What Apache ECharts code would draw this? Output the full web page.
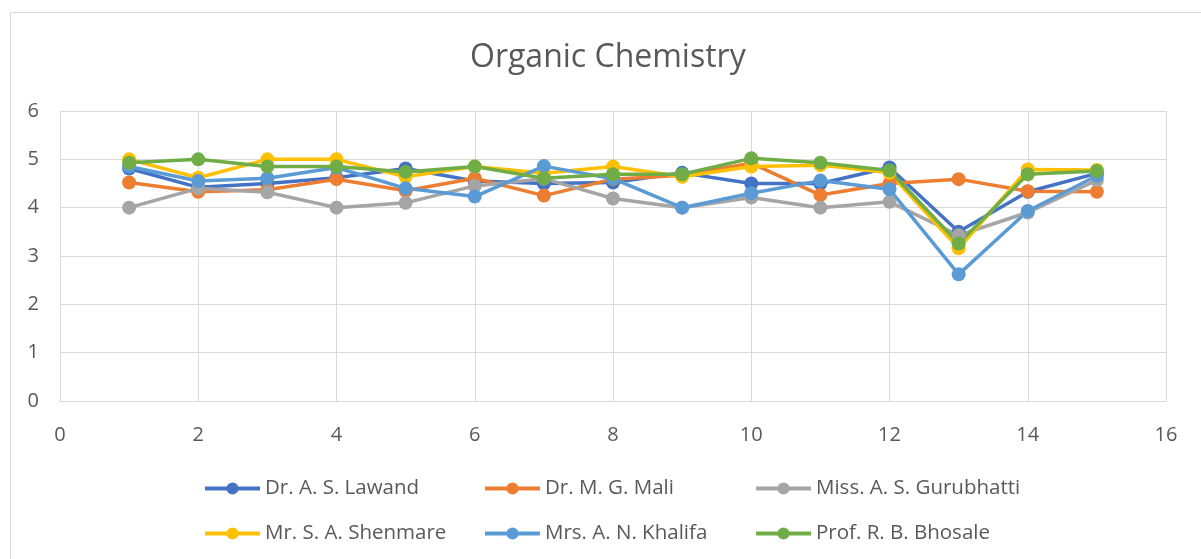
<!DOCTYPE html>
<html><head><meta charset="utf-8">
<script src="https://cdn.jsdelivr.net/npm/echarts@6/dist/echarts.min.js"></script>
<style>html,body{margin:0;padding:0;background:#fff}#c{width:1201px;height:559px}</style>
</head><body><div id="c"></div>
<script>
const xs = [1,2,3,4,5,6,7,8,9,10,11,12,13,14,15];
const names = ["Dr. A. S. Lawand","Dr. M. G. Mali","Miss. A. S. Gurubhatti","Mr. S. A. Shenmare","Mrs. A. N. Khalifa","Prof. R. B. Bhosale"];
const colors = ["#4472C4","#ED7D31","#A5A5A5","#FFC000","#5B9BD5","#70AD47"];
const lawand     = [4.81,4.42,4.50,4.62,4.81,4.55,4.50,4.52,4.72,4.50,4.50,4.83,3.50,4.33,4.71];
const mali       = [4.52,4.33,4.37,4.59,4.35,4.61,4.25,4.59,4.67,4.92,4.26,4.50,4.59,4.34,4.33];
const gurubhatti = [4.00,4.40,4.32,4.00,4.10,4.45,4.60,4.19,4.00,4.21,4.00,4.12,3.43,3.90,4.57];
const shenmare   = [5.00,4.62,5.00,5.00,4.64,4.85,4.71,4.85,4.64,4.85,4.88,4.72,3.16,4.79,4.78];
const khalifa    = [4.85,4.55,4.61,4.83,4.40,4.23,4.86,4.60,4.00,4.30,4.56,4.38,2.62,3.93,4.66];
const bhosale    = [4.93,5.00,4.85,4.85,4.74,4.85,4.61,4.69,4.69,5.02,4.93,4.77,3.26,4.69,4.76];
const allData = [lawand, mali, gurubhatti, shenmare, khalifa, bhosale];
const xTicks = {min:0, max:16, interval:2};
const yTicks = {min:0, max:6, interval:1};

const font = "'Open Sans', 'Noto Sans', sans-serif";
const chart = echarts.init(document.getElementById('c'), null, {renderer:'canvas'});
const legendCol = (idx, left) => ({
  orient:'vertical', left:left, top:478, padding:0, itemGap:24, itemWidth:55, itemHeight:15,
  data: idx.map(i=>names[i]),
  lineStyle:{width:4},
  textStyle:{fontFamily:font, fontSize:20.5, color:'#595959'},
  selectedMode:false
});
chart.setOption({
  animation:false,
  color: colors,
  title:{text:'Organic Chemistry', left:470, top:42, padding:0,
    textStyle:{fontFamily:font, fontSize:32, fontWeight:'normal', color:'#595959'}},
  graphic:[{type:'rect', shape:{x:10.5,y:12.5,width:1200,height:560}, style:{fill:'none', stroke:'#d9d9d9', lineWidth:1}, silent:true}],
  grid:{left:60, right:35, top:111, bottom:158},
  xAxis:{type:'value', min:xTicks.min, max:xTicks.max, interval:xTicks.interval,
    axisLine:{show:true, lineStyle:{color:'#d9d9d9', width:1}}, axisTick:{show:false},
    splitLine:{show:true, lineStyle:{color:'#d9d9d9', width:1}},
    axisLabel:{fontFamily:font, fontSize:20, color:'#595959', margin:24}},
  yAxis:{type:'value', min:yTicks.min, max:yTicks.max, interval:yTicks.interval,
    axisLine:{show:true, lineStyle:{color:'#d9d9d9', width:1}}, axisTick:{show:false},
    splitLine:{show:true, lineStyle:{color:'#d9d9d9', width:1}},
    axisLabel:{fontFamily:font, fontSize:20, color:'#595959', margin:21}},
  legend:[legendCol([0,3],203), legendCol([1,4],483), legendCol([2,5],754)],
  series: names.map((n,i)=>({
    name:n, type:'line', data: xs.map((x,j)=>[x, allData[i][j]]),
    symbol:'circle', symbolSize:14, showSymbol:true,
    lineStyle:{width:3.5, color:colors[i]}, itemStyle:{color:colors[i]},
    emphasis:{disabled:true}
  }))
});
</script></body></html>
